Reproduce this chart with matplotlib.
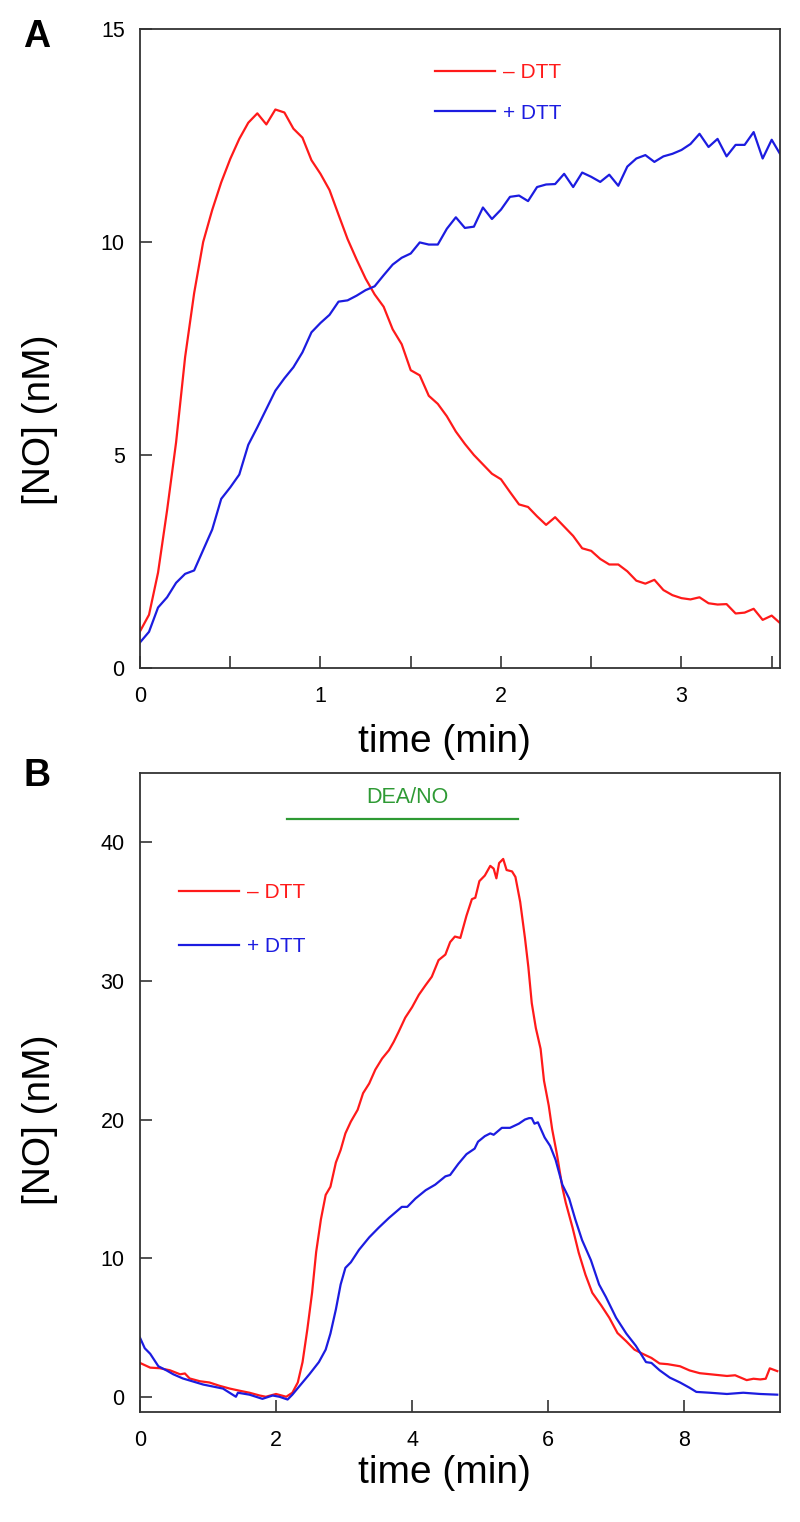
import numpy as np
import matplotlib
matplotlib.use("Agg")
import matplotlib.pyplot as plt

plt.rcParams['font.family'] = ['Liberation Sans', 'DejaVu Sans']

# ---------------- Panel A data (sampled every 0.05 min) ----------------
step_a = 0.05
red_a = [0.86, 1.25, 2.24, 3.7, 5.3, 7.3, 8.8, 10.0, 10.75, 11.4,
         11.95, 12.42, 12.8, 13.02, 12.76, 13.11, 13.04, 12.66, 12.45, 11.92,
         11.6, 11.22, 10.64, 10.07, 9.59, 9.14, 8.77, 8.48, 7.95, 7.6,
         6.99, 6.87, 6.39, 6.2, 5.91, 5.55, 5.26, 5.0, 4.78, 4.56,
         4.43, 4.13, 3.84, 3.78, 3.56, 3.36, 3.54, 3.32, 3.1, 2.81,
         2.75, 2.56, 2.43, 2.43, 2.27, 2.05, 1.98, 2.07, 1.83, 1.71,
         1.64, 1.61, 1.66, 1.52, 1.49, 1.5, 1.28, 1.3, 1.39, 1.13,
         1.23, 1.04]
blue_a = [0.6, 0.85, 1.42, 1.66, 2.0, 2.21, 2.29, 2.77, 3.25, 3.97,
          4.24, 4.54, 5.24, 5.65, 6.08, 6.51, 6.8, 7.06, 7.41, 7.88,
          8.1, 8.29, 8.6, 8.63, 8.74, 8.87, 8.96, 9.22, 9.47, 9.63,
          9.73, 9.99, 9.94, 9.94, 10.31, 10.58, 10.33, 10.36, 10.81, 10.54,
          10.76, 11.06, 11.09, 10.96, 11.29, 11.35, 11.36, 11.6, 11.29, 11.63,
          11.53, 11.41, 11.58, 11.32, 11.77, 11.96, 12.04, 11.88, 12.01, 12.07,
          12.16, 12.3, 12.54, 12.23, 12.42, 12.01, 12.28, 12.28, 12.58, 11.96,
          12.4, 12.04]
time_a_red = np.arange(len(red_a)) * step_a
time_a_blue = np.arange(len(blue_a)) * step_a

# ---------------- Panel B data ----------------
time_b_red = [0.0, 0.15, 0.29, 0.44, 0.59, 0.66, 0.73, 0.88, 1.02, 1.17,
              1.32, 1.46, 1.61, 1.76, 1.85, 2.0, 2.15, 2.24, 2.32, 2.39,
              2.46, 2.53, 2.59, 2.66, 2.73, 2.8, 2.88, 2.95, 3.02, 3.1,
              3.2, 3.28, 3.37, 3.46, 3.56, 3.66, 3.73, 3.8, 3.9, 4.0,
              4.1, 4.2, 4.29, 4.39, 4.49, 4.56, 4.63, 4.71, 4.8, 4.88,
              4.93, 4.99, 5.07, 5.15, 5.2, 5.24, 5.28, 5.34, 5.39, 5.47,
              5.52, 5.59, 5.66, 5.71, 5.76, 5.82, 5.89, 5.94, 6.01, 6.06,
              6.13, 6.21, 6.26, 6.36, 6.45, 6.55, 6.65, 6.78, 6.9, 7.02,
              7.15, 7.27, 7.39, 7.52, 7.64, 7.76, 7.94, 8.08, 8.23, 8.43,
              8.63, 8.75, 8.92, 9.02, 9.12, 9.2, 9.26, 9.37]
red_b = [2.44, 2.1, 2.06, 1.91, 1.62, 1.68, 1.32, 1.12, 1.03, 0.79,
         0.59, 0.44, 0.29, 0.09, 0.0, 0.2, 0.0, 0.29, 1.03, 2.5,
         4.85, 7.5, 10.44, 12.8, 14.56, 15.15, 16.9, 17.8, 19.0, 19.85,
         20.7, 21.9, 22.6, 23.6, 24.4, 25.0, 25.6, 26.3, 27.35, 28.1,
         29.0, 29.7, 30.3, 31.5, 31.9, 32.8, 33.2, 33.1, 34.7, 35.9,
         36.0, 37.2, 37.6, 38.3, 38.1, 37.4, 38.5, 38.8, 38.0, 37.9,
         37.5, 35.7, 33.1, 31.0, 28.4, 26.6, 25.1, 22.8, 21.0, 19.3,
         17.5, 15.1, 14.0, 12.2, 10.4, 8.8, 7.5, 6.6, 5.7, 4.6,
         4.0, 3.4, 3.1, 2.8, 2.4, 2.35, 2.2, 1.9, 1.7, 1.6,
         1.5, 1.55, 1.2, 1.3, 1.25, 1.3, 2.05, 1.85]
time_b_blue = [0.0, 0.07, 0.15, 0.27, 0.39, 0.49, 0.63, 0.78, 0.93, 1.07,
               1.22, 1.41, 1.44, 1.61, 1.8, 1.95, 2.05, 2.17, 2.24, 2.34,
               2.49, 2.63, 2.73, 2.8, 2.88, 2.95, 3.02, 3.1, 3.22, 3.37,
               3.51, 3.66, 3.85, 3.93, 4.05, 4.2, 4.34, 4.49, 4.56, 4.68,
               4.8, 4.92, 4.97, 5.07, 5.15, 5.2, 5.32, 5.44, 5.57, 5.66,
               5.72, 5.76, 5.8, 5.85, 5.95, 6.03, 6.11, 6.21, 6.31, 6.4,
               6.5, 6.63, 6.75, 6.85, 7.0, 7.15, 7.29, 7.44, 7.52, 7.64,
               7.79, 7.94, 8.08, 8.18, 8.38, 8.63, 8.87, 9.12, 9.37]
blue_b = [4.26, 3.5, 3.1, 2.2, 1.9, 1.62, 1.32, 1.1, 0.88, 0.74,
          0.59, 0.0, 0.29, 0.15, -0.15, 0.09, 0.0, -0.2, 0.15, 0.74,
          1.62, 2.5, 3.4, 4.56, 6.3, 8.1, 9.3, 9.7, 10.6, 11.5,
          12.2, 12.9, 13.7, 13.7, 14.3, 14.9, 15.3, 15.9, 16.0, 16.8,
          17.5, 17.9, 18.4, 18.8, 19.0, 18.9, 19.4, 19.4, 19.7, 20.0,
          20.1, 20.1, 19.7, 19.8, 18.7, 18.1, 17.1, 15.3, 14.3, 12.8,
          11.3, 9.85, 8.1, 7.2, 5.7, 4.56, 3.68, 2.5, 2.44, 1.91,
          1.38, 1.03, 0.65, 0.35, 0.29, 0.2, 0.29, 0.2, 0.15]

labels = ["\u2013 DTT", "+ DTT"]
treatment_label = "DEA/NO"
dea_start, dea_end, dea_level = 2.16, 5.56, 41.7

RED = "#ff1a1a"
BLUE = "#1c1ce0"
GREEN = "#2e9a34"
SPINE = "#333333"
LW = 1.6

fig = plt.figure(figsize=(8, 15.22), dpi=100)
axA = fig.add_axes([0.175, 0.5611, 0.8, 0.41985])
axB = fig.add_axes([0.175, 0.07227, 0.8, 0.41985])


def style(ax):
    for s in ax.spines.values():
        s.set_color(SPINE)
        s.set_linewidth(1.3)
    ax.tick_params(direction='in', length=8.5, width=1.2, color=SPINE,
                   labelsize=15.5, top=False, right=False)
    ax.tick_params(axis='x', pad=13)
    ax.tick_params(axis='y', pad=11)


# Panel A
axA.plot(time_a_red, red_a, color=RED, lw=LW, label=labels[0])
axA.plot(time_a_blue, blue_a, color=BLUE, lw=LW, label=labels[1])
axA.set_xlim(0, 3.546)
axA.set_ylim(0, 15)
axA.set_xticks(np.arange(0, 3.6, 0.5))
axA.set_xticklabels(["0", "", "1", "", "2", "", "3", ""])
axA.set_yticks([0, 5, 10, 15])
style(axA)
axA.legend(loc='upper left', bbox_to_anchor=(435 / 800, 1 - 63 / 1522),
           bbox_transform=fig.transFigure, frameon=False, fontsize=15,
           handlelength=2.9, handletextpad=0.35, labelspacing=1.04,
           borderpad=0, borderaxespad=0, labelcolor='linecolor')

# Panel B
axB.plot(time_b_red, red_b, color=RED, lw=LW, label=labels[0])
axB.plot(time_b_blue, blue_b, color=BLUE, lw=LW, label=labels[1])
axB.plot([dea_start, dea_end], [dea_level, dea_level], color=GREEN, lw=LW)
axB.text(3.93, 43.2, treatment_label, color=GREEN, fontsize=15.5,
         ha='center', va='center')
axB.set_xlim(0, 9.41)
axB.set_ylim(-1.1, 45)
axB.set_xticks([0, 2, 4, 6, 8])
axB.set_yticks([0, 10, 20, 30, 40])
style(axB)
axB.legend(loc='upper left', bbox_to_anchor=(179 / 800, 1 - 883 / 1522),
           bbox_transform=fig.transFigure, frameon=False, fontsize=15,
           handlelength=2.9, handletextpad=0.35, labelspacing=1.69,
           borderpad=0, borderaxespad=0, labelcolor='linecolor')

# Axis labels
for yc, xc in [(1 - 420 / 1522, 1 - 742 / 1522), (1 - 1120 / 1522, 1 - 1473 / 1522)]:
    fig.text(0.05, yc, "[NO] (nM)", rotation=90, fontsize=28,
             ha='center', va='center')
    fig.text(0.556, xc, "time (min)", fontsize=28, ha='center', va='center')

fig.text(37 / 800, 1 - 37 / 1522, "A", fontsize=27, fontweight='bold',
         ha='center', va='center')
fig.text(37 / 800, 1 - 776 / 1522, "B", fontsize=27, fontweight='bold',
         ha='center', va='center')

fig.savefig("out.png", dpi=100)
